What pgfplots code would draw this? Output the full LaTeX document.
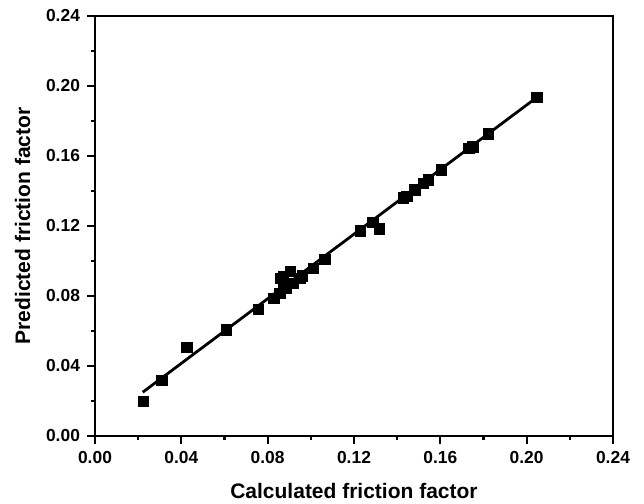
\documentclass[border=0pt]{standalone}
\usepackage{pgfplots}
\pgfplotsset{compat=1.18}
\usepackage{fontspec}
\setmainfont{Liberation Sans}
\begin{document}
\begin{tikzpicture}
\begin{axis}[
  at={(0,0)}, anchor=south west,
  scale only axis, width=259pt, height=210pt,
  xmin=0, xmax=0.24, ymin=0, ymax=0.24,
  xtick={0,0.04,...,0.241}, ytick={0,0.04,...,0.241},
  minor x tick num=1, minor y tick num=1,
  xtick pos=bottom, ytick pos=left,
  tick align=outside,
  major tick length=4pt, minor tick length=2pt,
  every tick/.style={line width=1.1pt, black},
  axis line style={line width=1.3pt},
  /pgf/number format/assume math mode=true,
  /pgf/number format/.cd, fixed, fixed zerofill, precision=2, /pgfplots/.cd,
  tick label style={font=\bfseries\fontsize{8.7}{10}\selectfont},
  xlabel={\bfseries Calculated friction factor},
  ylabel={\bfseries Predicted friction factor},
  label style={font=\bfseries\fontsize{10.5}{12}\selectfont},
  xlabel style={yshift=-3pt},
  ylabel style={yshift=1pt},
  clip=false,
]
\addplot[only marks, mark=square*, mark size=2.6pt, black] coordinates {
(0.0224,0.0198) (0.0310,0.0316) (0.0425,0.0507) (0.0610,0.0606)
(0.0757,0.0724) (0.0829,0.0787)
(0.0857,0.0815) (0.0860,0.0901) (0.0873,0.0872) (0.0904,0.0939)
(0.0888,0.0844) (0.0916,0.0872) (0.0950,0.0901) (0.0962,0.0914)
(0.0873,0.0910)
(0.1012,0.0958) (0.1066,0.1010)
(0.1231,0.1171) (0.1287,0.1221) (0.1318,0.1183)
(0.1430,0.1360) (0.1445,0.1370)
(0.1483,0.1406) (0.1521,0.1444) (0.1545,0.1463) (0.1606,0.1520)
(0.1733,0.1645) (0.1750,0.1653) (0.1823,0.1727) (0.2047,0.1935)
};
\addplot[line width=1.4pt, black] coordinates {(0.0221,0.0250) (0.2047,0.1935)};
\end{axis}
\pgfresetboundingbox
\path[use as bounding box] (-47.5pt,-34pt) rectangle (274.5pt,218pt);
\end{tikzpicture}
\end{document}
